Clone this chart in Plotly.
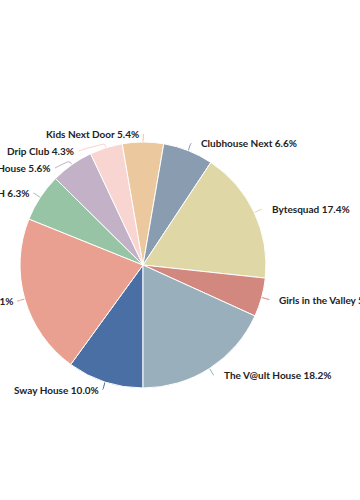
import numpy as np
import plotly.graph_objects as go

# ---- data (clockwise, starting at 6 o'clock) ----
names = ["Sway House", "Hype House", "Clubhouse BH", "Alpha House", "Drip Club",
         "Kids Next Door", "Clubhouse Next", "Bytesquad", "Girls in the Valley",
         "The V@ult House"]
shares = [10.0, 21.1, 6.3, 5.6, 4.3, 5.4, 6.6, 17.4, 5.1, 18.2]
colors = ["#4a6fa5", "#e9a090", "#96c4a4", "#c3b1c8", "#f8d5d0",
          "#ecc89e", "#8a9cb0", "#dfd8a6", "#d2877f", "#99afbb"]

# ---- layout geometry (pixels) ----
W, H = 360, 500
cx, cy, r = 143.0, 265.0, 123.0
label_r = 131.0
start_deg = 180.0
min_gap = 17.0

fig = go.Figure()
fig.add_trace(go.Pie(
    labels=names, values=shares, sort=False, direction="clockwise",
    rotation=start_deg, textinfo="none", hoverinfo="label+percent",
    marker=dict(colors=colors, line=dict(color="#ffffff", width=1)),
    domain=dict(x=[(cx - r) / W, (cx + r) / W], y=[1 - (cy + r) / H, 1 - (cy - r) / H]),
    showlegend=False,
))

# ---- label placement (Highcharts-like) ----
total = float(sum(shares))
cum = np.cumsum([0.0] + shares[:-1])
mid = start_deg + (cum + np.array(shares) / 2) / total * 360.0
rad = np.deg2rad(mid)
nat_y = cy - label_r * np.cos(rad)
left = [(180.0 < (m % 720)) and ((m - 1e-6) <= 360.0) for m in mid]

ys = nat_y.copy()
for side in (True, False):
    idx = [i for i in range(len(names)) if left[i] == side]
    idx.sort(key=lambda i: nat_y[i])
    prev = None
    for i in idx:
        if prev is not None and ys[i] < ys[prev] + min_gap:
            ys[i] = ys[prev] + min_gap
        prev = i

annotations = []
for i, nm in enumerate(names):
    dy = ys[i] - cy
    dx = np.sqrt(max(label_r ** 2 - dy ** 2, 0.0))
    sgn = -1.0 if left[i] else 1.0
    xa = cx + sgn * dx
    # connector: soft curve from label to slice edge
    tx, ty = cx + r * np.sin(rad[i]), cy - r * np.cos(rad[i])
    bx, by = cx + (r + 3) * np.sin(rad[i]), cy - (r + 3) * np.cos(rad[i])
    p0 = np.array([xa, ys[i]])
    p1 = np.array([xa - sgn * 1.0, ys[i]])
    p2 = np.array([2 * bx - tx, 2 * by - ty])
    p3 = np.array([bx, by])
    t = np.linspace(0, 1, 16)[:, None]
    curve = ((1 - t) ** 3) * p0 + 3 * ((1 - t) ** 2) * t * p1 + 3 * (1 - t) * t ** 2 * p2 + t ** 3 * p3
    xs = list(curve[:, 0]) + [tx]
    yv = list(curve[:, 1]) + [ty]
    fig.add_trace(go.Scatter(x=xs, y=yv, mode="lines", hoverinfo="skip",
                             line=dict(color=colors[i], width=1), showlegend=False))
    annotations.append(dict(
        x=xa + (-2.0 if left[i] else 8.0), y=ys[i], xref="x", yref="y",
        text=f"{nm} {shares[i] / total * 100:.1f}%", showarrow=False,
        xanchor="right" if left[i] else "left", yanchor="middle",
        font=dict(family="Lato", size=10, color="#222222", weight="bold"),
    ))

fig.update_layout(
    width=W, height=H, margin=dict(l=0, r=0, t=0, b=0),
    paper_bgcolor="#ffffff", plot_bgcolor="rgba(0,0,0,0)",
    xaxis=dict(range=[0, W], visible=False, fixedrange=True, domain=[0, 1]),
    yaxis=dict(range=[H, 0], visible=False, fixedrange=True, domain=[0, 1]),
    annotations=annotations,
)

fig.write_html("out.html")
